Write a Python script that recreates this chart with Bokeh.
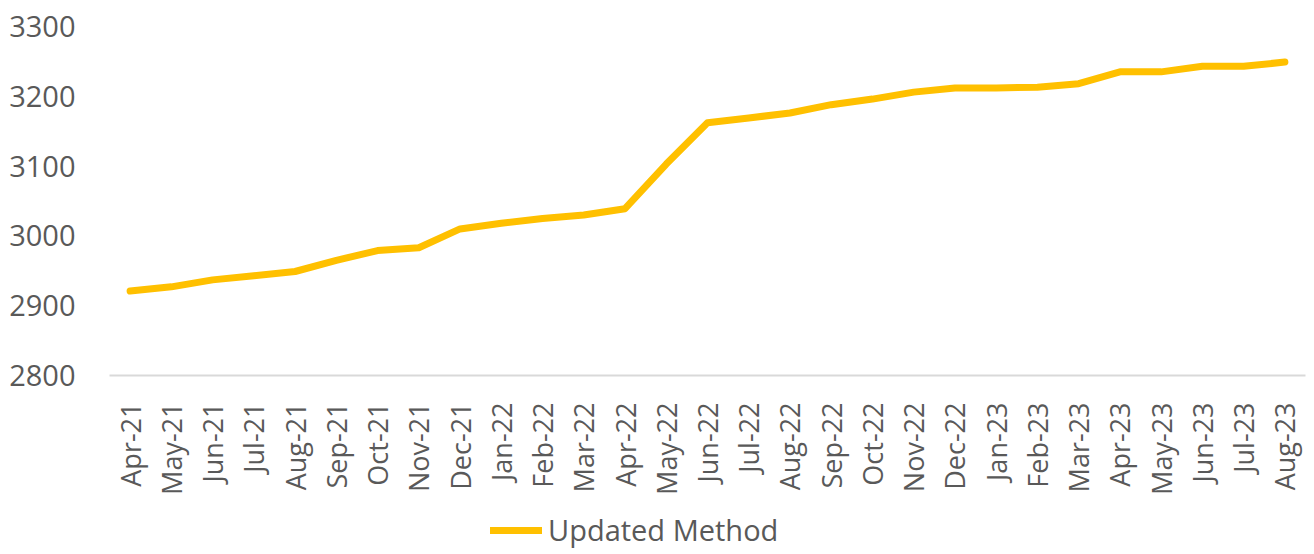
import math
from bokeh.plotting import figure
from bokeh.layouts import column
from bokeh.models import Range1d, FixedTicker, Legend, LegendItem, FactorRange
from bokeh.embed import file_html
from bokeh.resources import INLINE

months = ["Apr-21", "May-21", "Jun-21", "Jul-21", "Aug-21", "Sep-21", "Oct-21", "Nov-21",
          "Dec-21", "Jan-22", "Feb-22", "Mar-22", "Apr-22", "May-22", "Jun-22", "Jul-22",
          "Aug-22", "Sep-22", "Oct-22", "Nov-22", "Dec-22", "Jan-23", "Feb-23", "Mar-23",
          "Apr-23", "May-23", "Jun-23", "Jul-23", "Aug-23"]
updated_method = [2921, 2927, 2937, 2943, 2949, 2965, 2979, 2983, 3010, 3018, 3025, 3030,
                  3039, 3103, 3162, 3169, 3176, 3188, 3196, 3206, 3212, 3212, 3213, 3218,
                  3235, 3235, 3243, 3243, 3249]
y_ticks = [2800, 2900, 3000, 3100, 3200, 3300]
series_name = "Updated Method"

FONT = "Open Sans"
TXT = "#595959"
GOLD = "#FFC000"

p = figure(frame_width=1196, frame_height=349, output_backend="svg", toolbar_location=None,
           x_range=FactorRange(*months, range_padding=0),
           y_range=Range1d(2800, 3300),
           min_border_left=109, min_border_right=1, min_border_top=26,
           min_border_bottom=128)
p.outline_line_color = None
p.background_fill_color = "white"
p.xgrid.grid_line_color = None
p.ygrid.grid_line_color = None

r = p.line(months, updated_method, line_color=GOLD, line_width=7,
           line_cap="round", line_join="round")

p.yaxis.ticker = FixedTicker(ticks=y_ticks)
p.yaxis.axis_line_color = None
p.yaxis.major_tick_line_color = None
p.yaxis.minor_tick_line_color = None
p.yaxis.major_label_text_font = FONT
p.yaxis.major_label_text_font_size = "29px"
p.yaxis.major_label_text_color = TXT
p.yaxis.major_label_standoff = 28

p.xaxis.axis_line_color = "#D9D9D9"
p.xaxis.axis_line_width = 2
p.xaxis.major_tick_line_color = None
p.xaxis.minor_tick_line_color = None
p.xaxis.major_label_orientation = math.pi / 2
p.xaxis.major_label_text_font = FONT
p.xaxis.major_label_text_font_size = "27px"
p.xaxis.major_label_text_color = TXT
p.xaxis.major_label_standoff = 21

# legend strip below the chart (its line lies outside the visible range)
lg = figure(width=1306, height=50, output_backend="svg", toolbar_location=None,
            x_range=FactorRange(*months, range_padding=0), y_range=Range1d(0, 1),
            min_border=0)
lg.outline_line_color = None
lg.axis.visible = False
lg.grid.visible = False
r2 = lg.line(months, updated_method, line_color=GOLD, line_width=7,
             line_cap="round", line_join="round")

legend = Legend(items=[LegendItem(label=series_name, renderers=[r2])],
                location=(381, 4), orientation="horizontal",
                border_line_color=None, background_fill_alpha=0,
                padding=0, margin=0, spacing=0,
                glyph_width=52, glyph_height=26, label_height=26,
                label_standoff=6,
                label_text_font=FONT, label_text_font_size="29px",
                label_text_color=TXT)
lg.add_layout(legend, "center")

layout = column(p, lg, spacing=0)
open("out.html", "w").write(file_html(layout, INLINE))
